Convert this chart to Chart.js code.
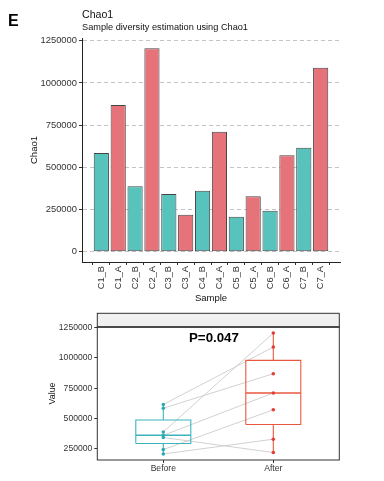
<!DOCTYPE html>
<html><head><meta charset="utf-8">
<script src="https://cdn.jsdelivr.net/npm/chart.js@4/dist/chart.umd.min.js"></script>
<style>
html,body{margin:0;padding:0;background:#fff;}
#wrap{position:relative;width:384px;height:481px;overflow:hidden;font-family:"Liberation Sans",Arial,sans-serif;}
canvas{position:absolute;left:0;}
.t{position:absolute;white-space:nowrap;line-height:1;color:#000;}
</style></head><body>
<div id="wrap">
<canvas id="c1" width="384" height="305" style="top:0"></canvas>
<canvas id="c2" width="384" height="176" style="top:305px"></canvas>
<div class="t" style="left:8px;top:12.5px;font-size:16px;font-weight:bold">E</div>
<div class="t" style="left:82px;top:9.3px;font-size:10.6px;color:#111">Chao1</div>
<div class="t" style="left:82px;top:23.3px;font-size:9.2px;color:#111">Sample diversity estimation using Chao1</div>
<div class="t" style="left:189px;top:331px;font-size:13.3px;font-weight:bold">P=0.047</div>
</div>
<script>
// ---- data ----
const samples = ['C1_B','C1_A','C2_B','C2_A','C3_B','C3_A','C4_B','C4_A','C5_B','C5_A','C6_B','C6_A','C7_B','C7_A'];
const chao1 = [585000,870000,389000,1206000,343000,219000,361000,711000,207000,329000,243000,572000,616000,1090000];
const yTicksTop = [0,250000,500000,750000,1000000,1250000];
const phases = ['Before','After'];
const yTicksBottom = [250000,500000,750000,1000000,1250000];

// ---- styles ----
const FONT = '"Liberation Sans", Arial, sans-serif';
const TEAL = '#57C3BC', RED = '#E6737A';
const BOX_TEAL = '#3BB4BB', BOX_RED = '#E8583F';
const PT_TEAL = '#2DAAB2', PT_RED = '#E33E36';
const TXT = '#333';

Chart.defaults.font.family = FONT;
Chart.defaults.color = TXT;

const before = samples.map((s,i)=>s.endsWith('_B')?chao1[i]:null).filter(v=>v!==null);
const after = samples.map((s,i)=>s.endsWith('_A')?chao1[i]:null).filter(v=>v!==null);

// ---- top bar chart ----
new Chart(document.getElementById('c1'), {
  type: 'bar',
  data: {
    datasets: [{
      data: chao1.map((v,i)=>({x:i+1, y:v})),
      backgroundColor: samples.map(s=>s.endsWith('_B')?TEAL:RED),
      borderColor: '#444',
      borderWidth: 1,
      borderSkipped: false,
      barPercentage: 0.9,
      categoryPercentage: 1
    }]
  },
  options: {
    responsive: false, animation: false, devicePixelRatio: 1,
    layout: {padding: {left: 29, right: 44, top: 38, bottom: 0}},
    plugins: {legend: {display: false}, tooltip: {enabled: false}},
    scales: {
      x: {
        type: 'linear', min: 0.4, max: 14.6,
        afterBuildTicks: a => { a.ticks = samples.map((_,i)=>({value:i+1})); },
        afterFit: s => { s.height = 43; },
        ticks: {autoSkip: false, minRotation: 90, maxRotation: 90, padding: 1,
          font: {size: 9.3}, color: TXT,
          callback: v => samples[Math.round(v)-1]},
        grid: {display: true, drawOnChartArea: false, drawTicks: true, tickLength: 3, tickColor: '#333'},
        border: {display: true, color: '#222', width: 1},
        title: {display: true, text: 'Sample', font: {size: 9.5}, color: '#111', padding: {top: 0, bottom: 1.3}}
      },
      y: {
        min: -60300, max: 1266300,
        afterBuildTicks: a => { a.ticks = yTicksTop.map(v=>({value:v})); },
        afterFit: s => { s.width = 53; },
        ticks: {padding: 2, font: {size: 9.4}, color: TXT, callback: v => String(v)},
        grid: {display: true, color: '#c4c4c4', lineWidth: 1, drawTicks: true, tickLength: 3, tickColor: '#333', tickBorderDash: []},
        border: {display: true, color: '#222', width: 1, dash: [4,3]},
        title: {display: true, text: 'Chao1', font: {size: 9.5}, color: '#111', padding: {top: 0, bottom: 0}}
      }
    }
  }
});

// ---- bottom box plot ----
function quant(arr, p){
  const s=[...arr].sort((a,b)=>a-b); const h=(s.length-1)*p; const lo=Math.floor(h);
  const hi=Math.min(lo+1,s.length-1); return s[lo]+(h-lo)*(s[hi]-s[lo]);
}
function stats(arr){
  const q1=quant(arr,0.25), med=quant(arr,0.5), q3=quant(arr,0.75), iqr=q3-q1;
  const inside=arr.filter(v=>v>=q1-1.5*iqr && v<=q3+1.5*iqr);
  return {q1,med,q3,lo:Math.min(...inside),hi:Math.max(...inside)};
}
const groupsData = [before, after];
const boxColors = [BOX_TEAL, BOX_RED];
const ptColors = [PT_TEAL, PT_RED];
const HALF = 0.25; // half box width in x units
const ds = [];
// paired lines
for (let i=0;i<before.length;i++){
  ds.push({type:'line', data:[{x:1,y:before[i]},{x:2,y:after[i]}], borderColor:'#cccccc', borderWidth:0.9, pointRadius:0, order:5});
}
groupsData.forEach((arr,g)=>{
  const st=stats(arr), x=g+1, c=boxColors[g];
  ds.push({type:'line', data:[{x:x,y:st.lo},{x:x,y:st.q1}], borderColor:c, borderWidth:1.1, pointRadius:0, order:4});
  ds.push({type:'line', data:[{x:x,y:st.q3},{x:x,y:st.hi}], borderColor:c, borderWidth:1.1, pointRadius:0, order:4});
  ds.push({type:'line', data:[{x:x-HALF,y:st.q1},{x:x+HALF,y:st.q1},{x:x+HALF,y:st.q3},{x:x-HALF,y:st.q3},{x:x-HALF,y:st.q1}],
    borderColor:c, borderWidth:1.1, pointRadius:0, fill:false, order:3});
  ds.push({type:'line', data:[{x:x-HALF,y:st.med},{x:x+HALF,y:st.med}], borderColor:c, borderWidth:1.6, pointRadius:0, order:2});
  ds.push({type:'scatter', data:arr.map(v=>({x:x,y:v})), backgroundColor:ptColors[g], borderColor:ptColors[g], pointRadius:1.8, borderWidth:0, order:1});
});

const panelPlugin = {
  id:'panel',
  beforeDraw(chart){
    const {ctx, chartArea:a} = chart;
    ctx.save();
    ctx.fillStyle='#F0F0F0';
    ctx.fillRect(a.left, a.top-13.7, a.right-a.left, 13.7);
    ctx.strokeStyle='#333'; ctx.lineWidth=1;
    ctx.strokeRect(a.left, a.top-13.7, a.right-a.left, 13.7);
    ctx.restore();
  },
  afterDraw(chart){
    const {ctx, chartArea:a} = chart;
    ctx.save();
    ctx.strokeStyle='#333'; ctx.lineWidth=1;
    ctx.strokeRect(a.left, a.top, a.right-a.left, a.bottom-a.top);
    ctx.lineWidth=1.2;
    ctx.beginPath(); ctx.moveTo(a.left,a.top); ctx.lineTo(a.right,a.top); ctx.stroke();
    ctx.restore();
  }
};

new Chart(document.getElementById('c2'), {
  type: 'line',
  data: {datasets: ds},
  plugins: [panelPlugin],
  options: {
    responsive: false, animation: false, devicePixelRatio: 1,
    layout: {padding: {left: 47.6, right: 44.7, top: 22, bottom: 0}},
    plugins: {legend: {display: false}, tooltip: {enabled: false}},
    scales: {
      x: {
        type: 'linear', min: 0.4, max: 2.6,
        afterBuildTicks: a => { a.ticks = phases.map((_,i)=>({value:i+1})); },
        afterFit: s => { s.height = 21; },
        ticks: {autoSkip:false, maxRotation:0, padding: 0, font: {size: 8.6}, color: TXT, callback: v => phases[Math.round(v)-1]},
        grid: {display: true, drawOnChartArea: false, drawTicks: true, tickLength: 3, tickColor: '#333'},
        border: {display: false}
      },
      y: {
        min: 157050, max: 1255950,
        afterBuildTicks: a => { a.ticks = yTicksBottom.map(v=>({value:v})); },
        afterFit: s => { s.width = 49.7; },
        ticks: {padding: 2, font: {size: 8.6}, color: TXT, callback: v => String(v)},
        grid: {display: true, drawOnChartArea: false, drawTicks: true, tickLength: 3, tickColor: '#333'},
        border: {display: false},
        title: {display: true, text: 'Value', font: {size: 8.8}, color: '#111', padding: {top: 0, bottom: 0}}
      }
    }
  }
});
</script>
</body></html>
